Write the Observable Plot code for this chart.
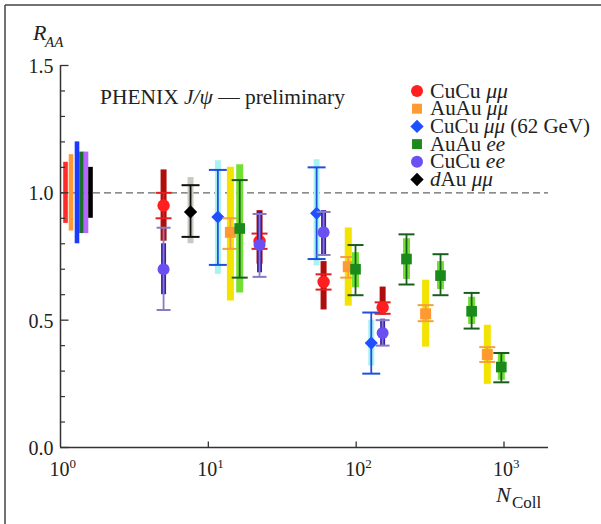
<!DOCTYPE html>
<html><head><meta charset="utf-8">
<script src="https://cdn.jsdelivr.net/npm/d3@7"></script>
<script src="https://cdn.jsdelivr.net/npm/@observablehq/plot@0.6"></script>
<style>body{margin:0;background:#fff} svg{display:block}</style>
</head><body><div id="chart"></div>
<script>
// ---------- data ----------
const seriesNames = ["CuCu μμ", "AuAu μμ", "CuCu μμ (62 GeV)", "AuAu ee", "CuCu ee", "dAu μμ"];

// CuCu μμ (red circles)
const cucuMuN = [4.98, 22.2, 60.2, 151];
const cucuMuR = [0.95, 0.81, 0.65, 0.55];
const cucuMuBarLo = [0.81, 0.72, 0.54, 0.52];
const cucuMuBarHi = [1.09, 0.93, 0.73, 0.63];
const cucuMuErrLo = [0.90, 0.78, 0.62, 0.525];
const cucuMuErrHi = [1.00, 0.84, 0.68, 0.57];

// AuAu μμ (orange squares)
const auauMuN = [14.1, 88.4, 295, 771];
const auauMuR = [0.845, 0.71, 0.525, 0.365];
const auauMuBarLo = [0.575, 0.555, 0.394, 0.248];
const auauMuBarHi = [1.10, 0.862, 0.657, 0.48];
const auauMuErrLo = [0.78, 0.667, 0.496, 0.336];
const auauMuErrHi = [0.90, 0.748, 0.559, 0.394];

// CuCu μμ 62 GeV (blue diamonds)
const cucu62N = [11.6, 54, 126.5];
const cucu62R = [0.905, 0.92, 0.41];
const cucu62BarLo = [0.68, 0.713, 0.32];
const cucu62BarHi = [1.126, 1.13, 0.50];
const cucu62ErrLo = [0.717, 0.74, 0.29];
const cucu62ErrHi = [1.09, 1.10, 0.53];

// AuAu ee (green squares)
const auauEeN = [16.3, 99, 219, 372, 604, 959];
const auauEeR = [0.86, 0.70, 0.74, 0.675, 0.535, 0.316];
const auauEeBarLo = [0.607, 0.627, 0.66, 0.62, 0.483, 0.264];
const auauEeBarHi = [1.11, 0.765, 0.82, 0.73, 0.59, 0.366];
const auauEeErrLo = [0.667, 0.598, 0.64, 0.598, 0.467, 0.256];
const auauEeErrHi = [1.05, 0.795, 0.837, 0.759, 0.607, 0.371];

// CuCu ee (purple circles)
const cucuEeN = [4.98, 22.2, 60.2, 151];
const cucuEeR = [0.70, 0.795, 0.845, 0.45];
const cucuEeBarLo = [0.60, 0.686, 0.752, 0.398];
const cucuEeBarHi = [0.80, 0.925, 0.93, 0.504];
const cucuEeErrLo = [0.54, 0.67, 0.756, 0.40];
const cucuEeErrHi = [0.863, 0.917, 0.925, 0.50];

// dAu μμ (black diamond)
const dauN = [7.58];
const dauR = [0.925];
const dauBarLo = [0.80];
const dauBarHi = [1.06];
const dauErrLo = [0.827];
const dauErrHi = [1.03];

// global uncertainty boxes at N_coll ~ 1
const globalN = [1.081, 1.178, 1.293, 1.387, 1.488, 1.596];
const globalHalf = [0.12, 0.15, 0.20, 0.16, 0.16, 0.10];

const yMajor = [0, 0.5, 1.0, 1.5];
const yMinor = [0.1,0.2,0.3,0.4,0.6,0.7,0.8,0.9,1.1,1.2,1.3,1.4];
const yLabels = ["0.0", "0.5", "1.0", "1.5"];
const xTicks = [10, 100, 1000];
const xLabelPos = [1, 10, 100, 1000];
const xExp = ["0", "1", "2", "3"];

// ---------- styles ----------
const FONT = "'Liberation Serif', 'Times New Roman', serif";
const styles = [
  {marker: "circle",   fill: "#ff1f1f", bar: "#b00d0d", err: "#e02020", bw: 6, cap: 8, r: 6.2},
  {marker: "square",   fill: "#ff9a33", bar: "#f2e400", err: "#f5a040", bw: 7, cap: 8, r: 6.2},
  {marker: "diamond2", fill: "#1f4fff", bar: "#a8f2f2", err: "#1f4fe0", bw: 6, cap: 9, r: 5.9},
  {marker: "square",   fill: "#1a8a1a", bar: "#72e032", err: "#1a5e1e", bw: 7, cap: 8, r: 6.0},
  {marker: "circle",   fill: "#6a50f2", bar: "#3a1eb0", err: "#8a7ac4", bw: 5, cap: 7, r: 6.0},
  {marker: "diamond2", fill: "#000000", bar: "#c6cbc2", err: "#111111", bw: 6, cap: 9, r: 6.0}
];
const globalColors = ["#ff2a2a", "#ff9a33", "#1a3aff", "#1b6e2c", "#b466ff", "#000000"];

function rows(N, R, bl, bh, el, eh) {
  return N.map((n, i) => ({n, v: R[i], blo: bl[i], bhi: bh[i], elo: el[i], ehi: eh[i]}));
}
const series = [
  rows(cucuMuN, cucuMuR, cucuMuBarLo, cucuMuBarHi, cucuMuErrLo, cucuMuErrHi),
  rows(auauMuN, auauMuR, auauMuBarLo, auauMuBarHi, auauMuErrLo, auauMuErrHi),
  rows(cucu62N, cucu62R, cucu62BarLo, cucu62BarHi, cucu62ErrLo, cucu62ErrHi),
  rows(auauEeN, auauEeR, auauEeBarLo, auauEeBarHi, auauEeErrLo, auauEeErrHi),
  rows(cucuEeN, cucuEeR, cucuEeBarLo, cucuEeBarHi, cucuEeErrLo, cucuEeErrHi),
  rows(dauN, dauR, dauBarLo, dauBarHi, dauErrLo, dauErrHi)
];
const globalRows = globalN.map((n, i) => ({n, lo: 1 - globalHalf[i], hi: 1 + globalHalf[i], c: globalColors[i]}));

// custom symbols: horizontal cap, inward ticks
const capSym = {draw(ctx, size) { const w = Math.sqrt(size / Math.PI); ctx.moveTo(-w, 0); ctx.lineTo(w, 0); }};
const tickRight = {draw(ctx, size) { const w = Math.sqrt(size / Math.PI); ctx.moveTo(0, 0); ctx.lineTo(w, 0); }};
const tickUp = {draw(ctx, size) { const w = Math.sqrt(size / Math.PI); ctx.moveTo(0, 0); ctx.lineTo(0, -w); }};

const order = [5, 2, 1, 3, 0, 4]; // drawing order
const dataMarks = [];
for (const k of order) {
  const s = styles[k], d = series[k];
  dataMarks.push(
    Plot.ruleX(d, {x: "n", y1: "blo", y2: "bhi", stroke: s.bar, strokeWidth: s.bw}),
    Plot.ruleX(d, {x: "n", y1: "elo", y2: "ehi", stroke: s.err, strokeWidth: 1.8}),
    Plot.dot(d, {x: "n", y: "elo", symbol: capSym, r: s.cap, fill: "none", stroke: s.err, strokeWidth: 2}),
    Plot.dot(d, {x: "n", y: "ehi", symbol: capSym, r: s.cap, fill: "none", stroke: s.err, strokeWidth: 2}),
    Plot.dot(d, {x: "n", y: "v", symbol: s.marker, r: s.r, fill: s.fill, stroke: "none"})
  );
}

const AX = "#333";
const chart = Plot.plot({
  width: 601, height: 524,
  marginLeft: 60, marginRight: 53, marginTop: 65, marginBottom: 77,
  x: {type: "log", domain: [1, 2000], axis: null},
  y: {domain: [0, 1.5], axis: null},
  style: {background: "#fff", overflow: "visible", fontFamily: FONT},
  marks: [
    Plot.ruleY([1], {stroke: "#666", strokeDasharray: "7,4", strokeWidth: 1.2}),
    Plot.ruleX(globalRows, {x: "n", y1: "lo", y2: "hi", stroke: "c", strokeWidth: 4.6}),
    ...dataMarks,
    // axes
    Plot.ruleX([1], {y1: 0, y2: 1.5, stroke: AX, strokeWidth: 1.5}),
    Plot.ruleY([0], {stroke: AX, strokeWidth: 1.5}),
    Plot.dot(yMajor, {x: 1, y: d => d, symbol: tickRight, r: 8, fill: "none", stroke: AX, strokeWidth: 1.3}),
    Plot.dot(yMinor, {x: 1, y: d => d, symbol: tickRight, r: 4.5, fill: "none", stroke: AX, strokeWidth: 1.2}),
    Plot.dot(xTicks, {x: d => d, y: 0, symbol: tickUp, r: 6, fill: "none", stroke: AX, strokeWidth: 1.3}),
    Plot.text(yMajor, {x: 1, y: d => d, text: (d, i) => yLabels[i], textAnchor: "end", dx: -7, dy: 1, fontSize: 20, fontFamily: FONT, fill: "#222"}),
    Plot.text(xLabelPos, {x: d => d, y: 0, text: () => "10", dx: -1, dy: 22, fontSize: 20, fontFamily: FONT, fill: "#222"}),
    Plot.text(xLabelPos, {x: d => d, y: 0, text: (d, i) => xExp[i], textAnchor: "start", dx: 9, dy: 16, fontSize: 13, fontFamily: FONT, fill: "#222"})
  ]
});

document.getElementById("chart").appendChild(chart);
const svg = d3.select(chart);

function addText(x, y, parts, size, len) {
  const t = svg.append("text").attr("x", x).attr("y", y)
    .attr("font-family", FONT).attr("font-size", size).attr("fill", "#222")
    .attr("text-anchor", "start");
  parts.forEach(p => t.append("tspan").attr("font-style", p.i ? "italic" : "normal").text(p.t));
  if (len) t.attr("textLength", len).attr("lengthAdjust", "spacingAndGlyphs");
  return t;
}

// frame
svg.append("line").attr("x1", 5).attr("x2", 601).attr("y1", 5).attr("y2", 5).attr("stroke", "#444").attr("stroke-width", 1.5);
svg.append("line").attr("x1", 5).attr("x2", 5).attr("y1", 5).attr("y2", 524).attr("stroke", "#444").attr("stroke-width", 1.5);

// axis titles
addText(33, 40, [{t: "R", i: true}], 22);
addText(45, 47, [{t: "AA", i: true}], 15);
addText(496, 502, [{t: "N", i: true}], 22);
addText(512, 508, [{t: "Coll"}], 17);

// annotation
addText(100, 104, [{t: "PHENIX "}, {t: "J/ψ", i: true}, {t: " — preliminary"}], 20, 245);

// legend
const legendParts = [
  [{t: "CuCu "}, {t: "μμ", i: true}],
  [{t: "AuAu "}, {t: "μμ", i: true}],
  [{t: "CuCu "}, {t: "μμ", i: true}, {t: " (62 GeV)"}],
  [{t: "AuAu "}, {t: "ee", i: true}],
  [{t: "CuCu "}, {t: "ee", i: true}],
  [{t: "d", i: true}, {t: "Au "}, {t: "μμ", i: true}]
];
const legendLen = [78, 78, 160, 75, 75, 63];
const symMap = {circle: d3.symbolCircle, square: d3.symbolSquare, diamond2: d3.symbolDiamond2};
legendParts.forEach((parts, i) => {
  const cy = 91 + i * 17.7;
  const s = styles[i];
  const r = s.marker === "square" ? 5.6 : 6;
  svg.append("path").attr("transform", `translate(417,${cy})`)
    .attr("d", d3.symbol(symMap[s.marker], Math.PI * r * r)())
    .attr("fill", s.fill);
  addText(430, cy + 6.5, parts, 20, legendLen[i]);
});
</script></body></html>
